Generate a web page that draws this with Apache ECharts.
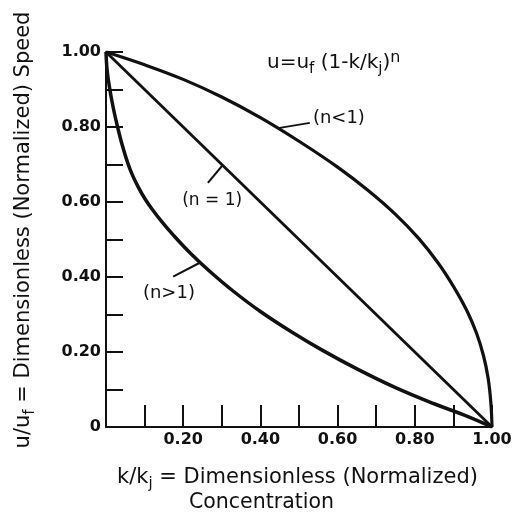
<!DOCTYPE html>
<html>
<head>
<meta charset="utf-8">
<script src="https://cdn.jsdelivr.net/npm/echarts@6/dist/echarts.min.js"></script>
<style>
  html, body { margin: 0; padding: 0; background: #ffffff; }
  #chart { width: 527px; height: 522px; }
</style>
</head>
<body>
<div id="chart"></div>
<script>
// Speed–concentration relation u = uf (1 - k/kj)^n for three exponents.

// n < 1 : concave curve
const kConcave = [0, 0.10, 0.20, 0.30, 0.40, 0.50, 0.60, 0.68, 0.75, 0.81, 0.86, 0.90, 0.935, 0.96, 0.978, 0.99, 0.997, 1.0];
const uConcave = [1.0, 0.966, 0.927, 0.88, 0.825, 0.762, 0.693, 0.63, 0.567, 0.503, 0.438, 0.375, 0.31, 0.25, 0.19, 0.13, 0.065, 0];

// n = 1 : straight line
const kLinear = [0, 1.0];
const uLinear = [1.0, 0];

// n > 1 : convex curve
const kConvex = [0, 0.003, 0.01, 0.019, 0.03, 0.042, 0.056, 0.068, 0.083, 0.10, 0.12, 0.145, 0.175, 0.22, 0.27, 0.33, 0.40, 0.48, 0.56, 0.65, 0.75, 0.85, 0.93, 1.0];
const uConvex = [1.0, 0.95, 0.90, 0.85, 0.80, 0.752, 0.705, 0.673, 0.641, 0.61, 0.58, 0.547, 0.511, 0.462, 0.414, 0.362, 0.308, 0.254, 0.205, 0.155, 0.105, 0.062, 0.031, 0];

// Tick labels
const xTickValues = [0.2, 0.4, 0.6, 0.8, 1.0];
const xTickTexts = ['0.20', '0.40', '0.60', '0.80', '1.00'];
const yTickValues = [0, 0.2, 0.4, 0.6, 0.8, 1.0];
const yTickTexts = ['0', '0.20', '0.40', '0.60', '0.80', '1.00'];

const INK = '#111111';
const FONT = '"DejaVu Sans", "Liberation Sans", sans-serif';

function zip(xs, ys) { return xs.map((x, i) => [x, ys[i]]); }
function tickFormatter(values, texts) {
  return function (v) {
    const i = values.findIndex(t => Math.abs(t - v) < 1e-6);
    return i < 0 ? '' : texts[i];
  };
}

const chart = echarts.init(document.getElementById('chart'), null, { renderer: 'canvas' });

const axisCommon = {
  type: 'value',
  min: 0,
  max: 1,
  interval: 0.1,
  axisLine: { show: true, onZero: false, lineStyle: { color: INK, width: 2 } },
  splitLine: { show: false },
  axisLabel: { color: INK, fontFamily: FONT, fontSize: 16, fontWeight: 'bold', margin: 5,
               showMinLabel: true, showMaxLabel: true }
};

chart.setOption({
  animation: false,
  backgroundColor: '#ffffff',
  grid: { left: 106, right: 35, top: 52, bottom: 95, containLabel: false },
  xAxis: Object.assign({}, axisCommon, {
    axisTick: { show: true, inside: true, length: 22, lineStyle: { color: INK, width: 2 } },
    axisLabel: Object.assign({}, axisCommon.axisLabel, { formatter: tickFormatter(xTickValues, xTickTexts) })
  }),
  yAxis: Object.assign({}, axisCommon, {
    axisTick: { show: true, inside: true, length: 17, lineStyle: { color: INK, width: 2 } },
    axisLabel: Object.assign({}, axisCommon.axisLabel, { formatter: tickFormatter(yTickValues, yTickTexts) })
  }),
  series: [
    { name: 'n<1', type: 'line', data: zip(kConcave, uConcave), symbol: 'none', smooth: 0.4,
      clip: false, lineStyle: { color: INK, width: 3.2 } },
    { name: 'n=1', type: 'line', data: zip(kLinear, uLinear), symbol: 'none', clip: false,
      lineStyle: { color: INK, width: 2.8 } },
    { name: 'n>1', type: 'line', data: zip(kConvex, uConvex), symbol: 'none', smooth: 0.4,
      clip: false, lineStyle: { color: INK, width: 3.5 } }
  ]
});

const toPx = (k, u) => chart.convertToPixel({ gridIndex: 0 }, [k, u]);

// Leader lines from each curve to its label (data coordinates)
const leaders = [
  [[0.446, 0.797], [0.528, 0.811]],
  [[0.302, 0.698], [0.264, 0.651]],
  [[0.243, 0.438], [0.174, 0.401]]
];

function leaderLine(seg) {
  const a = toPx(seg[0][0], seg[0][1]);
  const b = toPx(seg[1][0], seg[1][1]);
  return { type: 'line', shape: { x1: a[0], y1: a[1], x2: b[0], y2: b[1] },
           style: { stroke: INK, lineWidth: 2 }, z: 10 };
}

function label(text, k, u, align, size) {
  const p = toPx(k, u);
  return { type: 'text', x: p[0], y: p[1], z: 10,
           style: { text: text, fill: INK, fontFamily: FONT, fontSize: size,
                    textAlign: align, align: align, textVerticalAlign: 'middle', verticalAlign: 'middle' } };
}

const subStyle = (size, lh) => ({ fontFamily: FONT, fontSize: size, fill: INK, verticalAlign: 'bottom', lineHeight: lh });

chart.setOption({
  graphic: [
    ...leaders.map(leaderLine),
    label('(n<1)', 0.536, 0.824, 'left', 18),
    label('(n = 1)', 0.275, 0.603, 'center', 17),
    label('(n>1)', 0.163, 0.357, 'center', 18),
    {
      type: 'text', z: 10,
      x: toPx(0.417, 0.97)[0], y: toPx(0.417, 0.97)[1],
      style: {
        text: 'u=u{f|f} (1-k/k{j|j}){n|n}',
        fill: INK, fontFamily: FONT, fontSize: 20, lineHeight: 26,
        textAlign: 'left', align: 'left', textVerticalAlign: 'middle', verticalAlign: 'middle',
        rich: {
          f: subStyle(15, 10),
          j: subStyle(15, 10),
          n: { fontFamily: FONT, fontSize: 16, fill: INK, verticalAlign: 'top', lineHeight: 12 }
        }
      }
    },
    // Axis titles
    {
      type: 'text', x: 117, y: 478,
      style: {
        text: 'k/k{j|j} = Dimensionless (Normalized)',
        fill: INK, fontFamily: FONT, fontSize: 21, lineHeight: 28,
        textAlign: 'left', align: 'left', textVerticalAlign: 'middle', verticalAlign: 'middle',
        rich: { j: subStyle(15, 12) }
      }
    },
    {
      type: 'text', x: 189, y: 503,
      style: {
        text: 'Concentration', fill: INK, fontFamily: FONT, fontSize: 20.5,
        textAlign: 'left', align: 'left', textVerticalAlign: 'middle', verticalAlign: 'middle'
      }
    },
    {
      type: 'text', x: 24, y: 230, rotation: Math.PI / 2,
      style: {
        text: 'u/u{f|f} = Dimensionless (Normalized) Speed',
        fill: INK, fontFamily: FONT, fontSize: 21, lineHeight: 28,
        textAlign: 'center', align: 'center', textVerticalAlign: 'middle', verticalAlign: 'middle',
        rich: { f: subStyle(15, 12) }
      }
    }
  ]
});
</script>
</body>
</html>
